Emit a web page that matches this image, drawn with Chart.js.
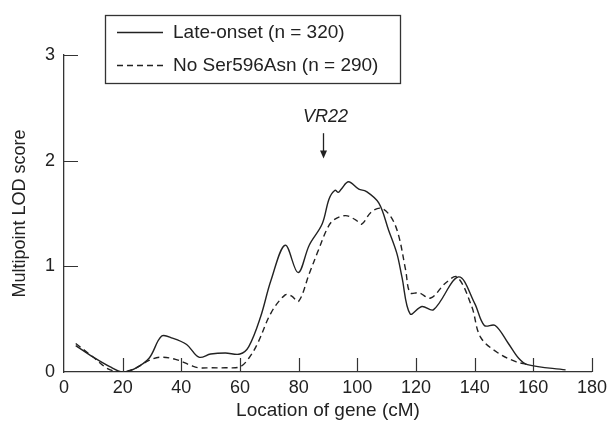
<!DOCTYPE html>
<html><head><meta charset="utf-8">
<script src="https://cdn.jsdelivr.net/npm/chart.js@4"></script>
<style>html,body{margin:0;padding:0;background:#fff}#wrap{width:612px;height:425px}</style>
</head><body><div id="wrap"><canvas id="c" width="612" height="425"></canvas></div>
<script>
// ---- data ----
const lateOnsetCM  = [4, 10, 15.6, 20, 24, 29, 33.3, 37, 41.8, 46, 50, 55, 60, 63, 67, 70.6, 75.4, 79.8, 83.6, 88, 90.4, 92.4, 93.5, 94.5, 97, 100.5, 103, 107.3, 110.7, 113.5, 115.2, 118, 122, 126, 134.5, 140, 143.3, 147, 151.5, 155, 158, 171];
const lateOnsetLOD = [0.25, 0.14, 0.05, 0, 0.03, 0.13, 0.34, 0.32, 0.26, 0.14, 0.17, 0.18, 0.17, 0.24, 0.52, 0.87, 1.20, 0.94, 1.20, 1.40, 1.64, 1.72, 1.70, 1.73, 1.80, 1.73, 1.71, 1.60, 1.34, 1.12, 0.90, 0.55, 0.62, 0.59, 0.90, 0.65, 0.44, 0.44, 0.27, 0.13, 0.07, 0.02];
const noSerCM  = [4, 10, 15, 19.5, 23, 26, 29, 32.6, 38, 43.5, 46, 50, 55, 60, 63, 66, 70.6, 75.4, 77.5, 80, 83.6, 86.4, 89.8, 92, 96, 99.4, 101.5, 104.6, 108, 111.4, 114, 116.5, 118, 121, 125, 130, 134, 139, 142, 148, 153.8, 158];
const noSerLOD = [0.27, 0.14, 0.03, 0, 0.02, 0.06, 0.11, 0.14, 0.12, 0.06, 0.04, 0.04, 0.04, 0.05, 0.13, 0.27, 0.56, 0.73, 0.72, 0.67, 0.93, 1.13, 1.36, 1.44, 1.48, 1.44, 1.40, 1.51, 1.55, 1.47, 1.30, 0.96, 0.75, 0.75, 0.70, 0.84, 0.90, 0.62, 0.33, 0.18, 0.10, 0.07];
const seriesLabels = ['Late-onset (n = 320)', 'No Ser596Asn (n = 290)'];
const xTickValues = [0, 20, 40, 60, 80, 100, 120, 140, 160, 180];
const yTickValues = [0, 1, 2, 3];
const xTitle = 'Location of gene (cM)';
const yTitle = 'Multipoint LOD score';
const markerLabel = 'VR22';
const markerCM = 88.3;
const markerTopLOD = 2.26;
const markerTipLOD = 2.02;

const FONT = "'Liberation Sans', Arial, sans-serif";
const INK = '#222';

const toPts = (xs, ys) => xs.map((x, i) => ({x, y: ys[i]}));

const inwardTicks = {
  id: 'inwardTicks',
  afterDraw(chart) {
    const {ctx, scales: {x, y}} = chart;
    ctx.save();
    ctx.strokeStyle = '#333';
    ctx.lineWidth = 1.2;
    ctx.beginPath();
    xTickValues.forEach(v => {
      if (v === 0) return;
      const px = Math.round(x.getPixelForValue(v)) + 0.5;
      ctx.moveTo(px, y.bottom); ctx.lineTo(px, y.bottom - 14);
    });
    yTickValues.forEach(v => {
      if (v === 0) return;
      const py = Math.round(y.getPixelForValue(v)) + 0.5;
      ctx.moveTo(x.left, py); ctx.lineTo(x.left + 14, py);
    });
    ctx.stroke();

    // marker annotation
    const mx = Math.round(x.getPixelForValue(markerCM)) + 0.5;
    const yTop = y.getPixelForValue(markerTopLOD);
    const yTip = y.getPixelForValue(markerTipLOD);
    ctx.strokeStyle = INK; ctx.fillStyle = INK; ctx.lineWidth = 1.3;
    ctx.beginPath(); ctx.moveTo(mx, yTop); ctx.lineTo(mx, yTip - 6); ctx.stroke();
    ctx.beginPath(); ctx.moveTo(mx - 3.5, yTip - 8); ctx.lineTo(mx + 3.5, yTip - 8); ctx.lineTo(mx, yTip); ctx.closePath(); ctx.fill();
    ctx.font = "italic 18px " + FONT;
    ctx.textAlign = 'center'; ctx.textBaseline = 'alphabetic';
    ctx.fillText(markerLabel, mx + 2, yTop - 11);

    // legend box
    ctx.lineWidth = 1.3; ctx.strokeStyle = '#333';
    ctx.strokeRect(105.5, 15.5, 295, 68);
    ctx.font = "19px " + FONT;
    ctx.textAlign = 'left'; ctx.textBaseline = 'middle';
    const rows = [32, 65];
    chart.data.datasets.forEach((ds, i) => {
      ctx.strokeStyle = ds.borderColor; ctx.lineWidth = ds.borderWidth;
      ctx.setLineDash(ds.borderDash || []);
      ctx.beginPath(); ctx.moveTo(117, rows[i] + 0.5); ctx.lineTo(163, rows[i] + 0.5); ctx.stroke();
      ctx.setLineDash([]);
      ctx.fillStyle = INK;
      ctx.fillText(ds.label, 173, rows[i] + 1);
    });
    ctx.restore();
  }
};

new Chart(document.getElementById('c'), {
  type: 'scatter',
  data: {
    datasets: [
      {label: seriesLabels[0], data: toPts(lateOnsetCM, lateOnsetLOD), showLine: true, borderColor: INK, borderWidth: 1.4, pointRadius: 0, tension: 0.35, fill: false},
      {label: seriesLabels[1], data: toPts(noSerCM, noSerLOD), showLine: true, borderColor: INK, borderWidth: 1.4, borderDash: [6, 4], pointRadius: 0, tension: 0.35, fill: false}
    ]
  },
  options: {
    responsive: false, animation: false, devicePixelRatio: 1,
    layout: {padding: {left: 0, right: 18, top: 55, bottom: 0}},
    plugins: {legend: {display: false}, tooltip: {enabled: false}},
    scales: {
      x: {
        type: 'linear', min: 0, max: 180,
        afterBuildTicks: s => { s.ticks = xTickValues.map(v => ({value: v})); },
        afterFit: s => { s.height = 53; },
        grid: {display: false, drawTicks: false},
        border: {display: true, color: '#333', width: 1.3},
        ticks: {color: INK, font: {family: FONT, size: 18}, padding: 5, maxRotation: 0},
        title: {display: true, text: xTitle, color: INK, font: {family: FONT, size: 19}, padding: {top: 0, bottom: 3}}
      },
      y: {
        type: 'linear', min: 0, max: 3,
        afterBuildTicks: s => { s.ticks = yTickValues.map(v => ({value: v})); },
        afterFit: s => { s.width = 64; },
        grid: {display: false, drawTicks: false},
        border: {display: true, color: '#333', width: 1.3},
        ticks: {color: INK, font: {family: FONT, size: 18}, padding: 9},
        title: {display: true, text: yTitle, color: INK, font: {family: FONT, size: 18}, padding: {top: 9, bottom: 0}}
      }
    }
  },
  plugins: [inwardTicks]
});
</script>
</body></html>
